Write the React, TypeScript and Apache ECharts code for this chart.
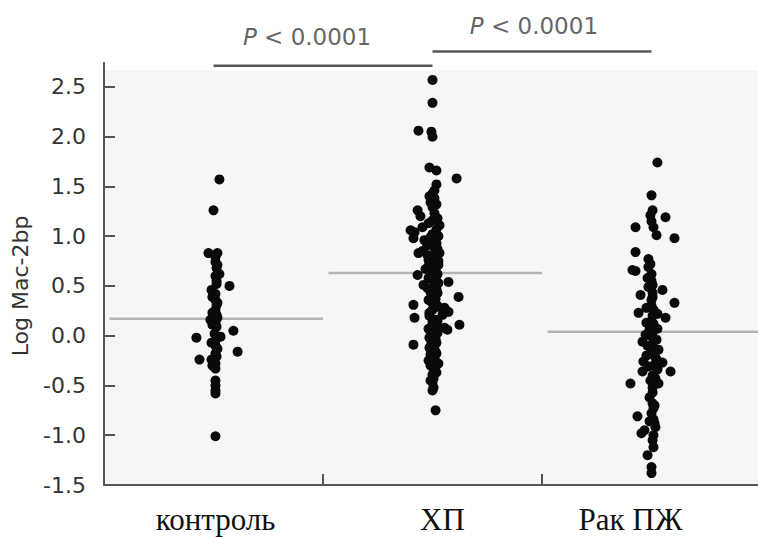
import React, { useEffect, useRef } from 'react';
import * as echarts from 'echarts';

// ---------- data ----------
const categories = ['контроль', 'ХП', 'Рак ПЖ'];
const yTicks = [-1.5, -1.0, -0.5, 0, 0.5, 1.0, 1.5, 2.0, 2.5];
const yMin = -1.5;
const yMax = 2.74;
const plotTop = 2.67; // top of the shaded plot area

// Log Mac-2bp values per group, and horizontal jitter (fraction of a category band)
const controlValues = [1.57, 1.26, 0.83, 0.83, 0.79, 0.74, 0.68, 0.62, 0.60, 0.55, 0.50, 0.46, 0.42, 0.36, 0.31, 0.26, 0.21, 0.16, 0.13, 0.09, 0.05, 0.02, -0.01, -0.02, -0.05, -0.10, -0.16, -0.18, -0.24, -0.24, -0.28, -0.33, -0.45, -0.50, -0.55, -0.58, -1.01,
  0.71, 0.52, 0.39, 0.33, 0.23, 0.18, 0.11, -0.07, -0.13, -0.21, -0.30];
const controlJitter = [0.027, 0, -0.023, 0.018, 0.009, 0.009, 0.014, 0.027, 0.009, 0.014, 0.073, -0.009, 0.009, 0.009, 0.014, 0.009, 0.014, -0.014, 0.009, 0.014, 0.091, 0.005, 0.032, -0.078, 0.009, 0.009, 0.110, 0.009, -0.064, -0.009, 0.009, 0.009, 0.009, 0.009, 0.009, 0.009, 0.009,
  0.018, 0.014, -0.005, 0.018, -0.005, 0.018, -0.005, -0.009, 0.018, 0.014, -0.005];

const hpValues = [2.57, 2.34, 2.06, 2.05, 2.00, 1.69, 1.66, 1.58, 1.52, 1.46, 1.43, 1.38, 1.34, 1.29, 1.26, 1.23, 1.20, 1.16, 1.11, 1.09, 1.06, 1.04, 1.02, 0.99, 0.98, 0.96, 0.93, 0.91, 0.88, 0.85, 0.83, 0.83, 0.80, 0.78, 0.76, 0.73, 0.71, 0.69, 0.66, 0.64, 0.61, 0.60, 0.57, 0.54, 0.51, 0.50, 0.47, 0.44, 0.41, 0.39, 0.37, 0.34, 0.31, 0.31, 0.28, 0.26, 0.24, 0.21, 0.20, 0.18, 0.16, 0.13, 0.11, 0.10, 0.08, 0.06, 0.05, 0.02, 0.00, -0.03, -0.06, -0.09, -0.10, -0.13, -0.16, -0.19, -0.22, -0.25, -0.28, -0.31, -0.35, -0.39, -0.43, -0.47, -0.52, -0.55, -0.75,
  1.40, 1.32, 1.18, 1.13, 1.07, 1.00, 0.94, 0.87, 0.81, 0.75, 0.70, 0.67, 0.62, 0.58, 0.53, 0.48, 0.43, 0.36, 0.29, 0.23, 0.15, 0.07, 0.03, -0.02, -0.07, -0.12, -0.18, -0.24, -0.30, -0.37, -0.45];
const hpJitter = [0, 0, -0.064, -0.005, 0, -0.014, 0.018, 0.110, 0.018, 0.009, 0, 0.009, -0.009, 0, -0.068, 0.009, -0.055, 0, 0.032, -0.046, -0.100, -0.082, 0, -0.009, -0.087, -0.037, 0.018, -0.023, 0.009, -0.046, -0.064, 0.032, 0, 0.018, -0.018, 0.009, 0.027, -0.009, 0.014, 0, -0.068, 0.018, -0.005, 0.073, -0.041, 0.009, 0.018, -0.009, 0.005, 0.119, 0.014, -0.005, -0.087, 0.018, 0.055, 0, 0.073, 0.046, -0.014, -0.082, 0.014, 0, 0.123, 0.018, 0.055, 0.068, -0.009, 0.009, 0, 0.014, -0.005, -0.087, 0.009, 0, 0.014, -0.009, 0.009, -0.018, 0.027, 0.014, 0.009, 0, 0.005, 0, 0.005, 0, 0.014,
  -0.014, 0.018, 0.023, -0.018, 0.018, 0.027, -0.027, 0.023, -0.023, 0.027, -0.018, -0.032, 0.023, -0.018, 0.027, -0.023, 0.023, -0.018, 0.027, -0.014, 0.023, -0.018, 0.023, -0.014, 0.018, -0.014, 0.018, 0.009, -0.009, 0.018, -0.009];

const cancerValues = [1.74, 1.41, 1.26, 1.21, 1.19, 1.15, 1.09, 1.09, 1.01, 0.98, 0.84, 0.77, 0.72, 0.69, 0.66, 0.65, 0.62, 0.59, 0.55, 0.51, 0.46, 0.43, 0.41, 0.39, 0.36, 0.33, 0.30, 0.26, 0.23, 0.20, 0.18, 0.15, 0.12, 0.09, 0.06, 0.03, 0.00, -0.03, -0.06, -0.09, -0.12, -0.16, -0.18, -0.22, -0.26, -0.27, -0.30, -0.33, -0.36, -0.36, -0.40, -0.45, -0.48, -0.48, -0.52, -0.57, -0.68, -0.73, -0.78, -0.81, -0.84, -0.88, -0.92, -0.95, -0.98, -1.00, -1.12, -1.20, -1.32, -1.38,
  0.58, 0.49, 0.28, 0.22, 0.13, 0.07, 0.01, -0.04, -0.10, -0.14, -0.20, -0.24, -0.31, -0.34, -0.43, -0.62, -0.70, -0.86, -1.05];
const cancerJitter = [0.027, 0, 0.005, -0.005, 0.064, 0, -0.073, 0.009, 0.023, 0.105, -0.073, -0.014, -0.005, -0.014, -0.087, -0.073, 0, -0.005, 0, 0.005, 0.050, 0.005, -0.050, 0.005, 0, 0.105, 0, 0.009, -0.059, 0.005, 0.064, 0, 0.009, 0, -0.009, 0.005, -0.005, 0.009, -0.041, 0.005, 0, 0.014, -0.005, 0.018, -0.037, 0.050, 0.009, 0.027, -0.041, 0.087, 0.005, -0.005, -0.096, 0.032, 0.005, 0.005, 0.005, 0.009, 0, -0.064, 0.009, 0.014, 0.018, -0.032, -0.046, 0.009, 0.009, -0.018, 0, 0,
  -0.018, -0.014, -0.023, 0.027, -0.023, 0.027, -0.027, 0.023, -0.018, 0.032, -0.023, 0.023, -0.014, 0.027, 0.018, -0.009, 0.014, -0.009, 0.005];

const medians = [0.17, 0.63, 0.04];

// significance brackets
const bracketFrom = [0, 1];
const bracketTo = [1, 2];
const bracketLevel = [2.713, 2.855];
const pTexts = ['< 0.0001', '< 0.0001'];
const pTextX = [0.927, 1.963];
const pTextY = [3.0, 3.116];

// ---------- chart ----------
const groups = [
  { values: controlValues, jitter: controlJitter },
  { values: hpValues, jitter: hpJitter },
  { values: cancerValues, jitter: cancerJitter },
];

const AXIS_COLOR = '#555555';
const SANS = 'DejaVu Sans';
const SERIF = 'Liberation Serif';

function buildOption(): any {
  const series: any[] = [];

  medians.forEach((m, gi) => {
    const s: any = {
      type: 'line',
      xAxisIndex: 1,
      yAxisIndex: 0,
      data: [[gi + 0.025, m], [gi + 1.0, m]],
      symbol: 'none',
      silent: true,
      lineStyle: { color: '#b3b3b3', width: 2.5 },
      z: 2,
    };
    if (gi === 0) {
      s.markArea = {
        silent: true,
        itemStyle: { color: '#f6f6f6' },
        data: [[{ coord: [0, yMin] }, { coord: [3, plotTop] }]],
      };
    }
    series.push(s);
  });

  groups.forEach((g, gi) => {
    series.push({
      type: 'scatter',
      xAxisIndex: 1,
      yAxisIndex: 0,
      symbol: 'circle',
      symbolSize: 10,
      silent: true,
      itemStyle: { color: '#0a0a0a', opacity: 1 },
      data: g.values.map((v, i) => [gi + 0.5 + (g.jitter[i] ?? 0), v]),
      z: 3,
    });
  });

  bracketFrom.forEach((f, k) => {
    series.push({
      type: 'line',
      xAxisIndex: 1,
      yAxisIndex: 0,
      clip: false,
      symbol: 'none',
      silent: true,
      data: [[f + 0.5, bracketLevel[k]], [bracketTo[k] + 0.5, bracketLevel[k]]],
      lineStyle: { color: AXIS_COLOR, width: 2.5 },
      z: 4,
    });
  });

  series.push({
    type: 'scatter',
    xAxisIndex: 1,
    yAxisIndex: 0,
    clip: false,
    silent: true,
    symbol: 'circle',
    symbolSize: 1,
    itemStyle: { color: 'rgba(0,0,0,0)' },
    data: pTexts.map((t, k) => ({ value: [pTextX[k], pTextY[k]], name: t })),
    label: {
      show: true,
      position: 'inside',
      formatter: (p: any) => `{i|P}{n| ${p.name}}`,
      rich: {
        i: { fontFamily: SANS, fontStyle: 'italic', fontSize: 23, color: '#3a3a3a' },
        n: { fontFamily: SANS, fontSize: 23, color: '#3a3a3a' },
      },
    },
    z: 4,
  });

  const catRich: any = {};
  const pads = [[0, 0, 0, 4], [0, 0, 0, 20], [0, 42, 0, 0]];
  categories.forEach((_, i) => {
    catRich['c' + i] = { fontFamily: SERIF, fontSize: 31, color: '#111111', padding: pads[i] };
  });

  return {
    animation: false,
    backgroundColor: '#ffffff',
    grid: { left: 104, top: 63, width: 657, height: 422, containLabel: false, outerBoundsMode: 'none' },
    xAxis: [
      {
        type: 'category',
        data: categories,
        boundaryGap: true,
        z: 6,
        axisLine: { show: true, onZero: false, lineStyle: { color: AXIS_COLOR, width: 2 } },
        axisTick: { show: true, inside: true, length: 11, interval: 0, alignWithLabel: false, lineStyle: { color: AXIS_COLOR, width: 2 } },
        axisLabel: {
          show: true,
          interval: 0,
          margin: 19,
          formatter: (v: string, i: number) => `{c${i}|${v}}`,
          rich: catRich,
        },
        splitLine: { show: false },
      },
      { type: 'value', min: 0, max: 3, show: false, axisLine: { onZero: false }, splitLine: { show: false } },
    ],
    yAxis: [
      {
        type: 'value',
        min: yMin,
        max: yMax,
        interval: 0.5,
        z: 6,
        name: 'Log Mac-2bp',
        nameLocation: 'middle',
        nameRotate: 90,
        nameGap: 73,
        nameTextStyle: { fontFamily: SANS, fontSize: 22, color: '#333333', padding: [0, 24, 0, 0] },
        axisLine: { show: true, onZero: false, lineStyle: { color: AXIS_COLOR, width: 2 } },
        axisTick: { show: true, inside: true, length: 11, customValues: yTicks, lineStyle: { color: AXIS_COLOR, width: 2 } },
        axisLabel: {
          show: true,
          customValues: yTicks,
          margin: 18,
          fontFamily: SANS,
          fontSize: 22,
          color: '#333333',
          formatter: (v: number) => v.toFixed(1),
        },
        splitLine: { show: false },
      },
    ],
    series,
  };
}

export default function App() {
  const ref = useRef<HTMLDivElement>(null);
  useEffect(() => {
    document.body.style.margin = '0';
    const chart = echarts.init(ref.current as HTMLDivElement, undefined, { renderer: 'svg' });
    chart.setOption(buildOption());
    return () => chart.dispose();
  }, []);
  return <div ref={ref} style={{ position: 'absolute', left: 0, top: 0, width: 758, height: 537 }} />;
}
